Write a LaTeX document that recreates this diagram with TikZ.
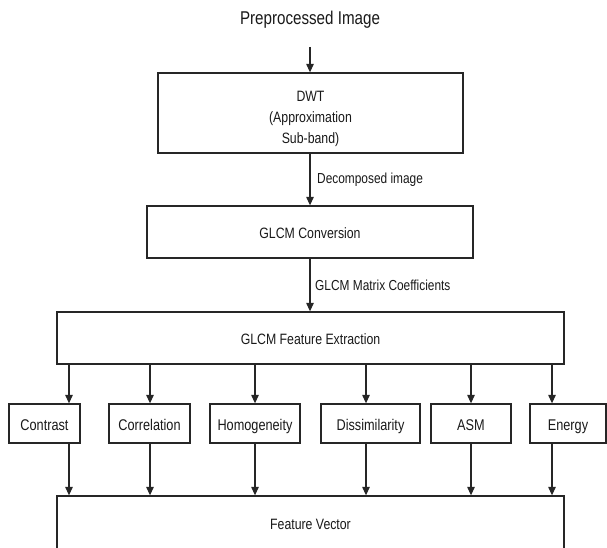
\documentclass[tikz,border=0pt]{standalone}
\usepackage{fontspec}
\setmainfont[FakeStretch=0.82]{Liberation Sans}
\usetikzlibrary{arrows.meta}

\tikzset{
  box/.style={draw=black!85, line width=1.3pt, inner sep=0pt, align=center,
              font=\fontsize{15}{21}\selectfont, text=black!90},
  oneline/.style={text height=13pt, text depth=0pt},
  feat/.style={box, oneline, minimum height=39pt, font=\fontsize{15.5}{19}\selectfont},
  arr/.style={draw=black!85, line width=1.2pt, -{Triangle[length=8.5pt,width=7.5pt]}},
  elabel/.style={anchor=west, inner sep=0pt, font=\fontsize{14.5}{17}\selectfont, text=black!90}
}

\begin{document}
\begin{tikzpicture}[x=1pt, y=-1pt]
  \useasboundingbox (0,0) rectangle (607,548);

  % input caption
  \node[inner sep=0pt, font=\fontsize{18.5}{22}\selectfont, text=black!90] (inp) at (310,20) {Preprocessed Image};
  \coordinate (inpend) at (310,47);

  % main pipeline
  \node[box, minimum width=305pt, minimum height=80pt] (dwt) at (310.5,113) {};
  \node[box, draw=none] (dwttext) at (310.5,118.5)
    {DWT\\(Approximation\\Sub-band)};
  \node[box, oneline, minimum width=326pt, minimum height=52pt] (conv) at (310,232) {GLCM Conversion};
  \node[box, oneline, minimum width=507pt, minimum height=52pt] (ext) at (310.5,338) {GLCM Feature Extraction};
  \node[box, oneline, minimum width=507pt, minimum height=54pt] (fv) at (310.5,523) {Feature Vector};

  % individual GLCM features
  \node[feat, minimum width=71pt] (contrast) at (44.5,423.5) {Contrast};
  \node[feat, minimum width=81pt] (correl) at (149.5,423.5) {Correlation};
  \node[feat, minimum width=90pt] (homog) at (255,423.5) {Homogeneity};
  \node[feat, minimum width=99pt] (dissim) at (370.5,423.5) {Dissimilarity};
  \node[feat, minimum width=80pt] (asm) at (471,423.5) {ASM};
  \node[feat, minimum width=76pt] (energy) at (568,423.5) {Energy};

  % pipeline arrows
  \draw[arr] (inpend) -- (dwt.north -| inpend);
  \coordinate (mid) at (310,0);
  \draw[arr] (dwt.south -| mid) -- (conv.north -| mid);
  \node[elabel] (lab1) at (317,180) {Decomposed image};
  \draw[arr] (conv.south -| mid) -- (ext.north -| mid);
  \node[elabel] (lab2) at (315,285) {GLCM Matrix Coefficients};

  % fan-out to features and fan-in to the feature vector
  \foreach \n/\x in {contrast/69, correl/150, homog/255, dissim/366, asm/471, energy/552} {
    \coordinate (col-\n) at (\x,0);
    \draw[arr] (ext.south -| col-\n) -- (\n.north -| col-\n);
    \draw[arr] (\n.south -| col-\n) -- (fv.north -| col-\n);
  }
\end{tikzpicture}
\end{document}
